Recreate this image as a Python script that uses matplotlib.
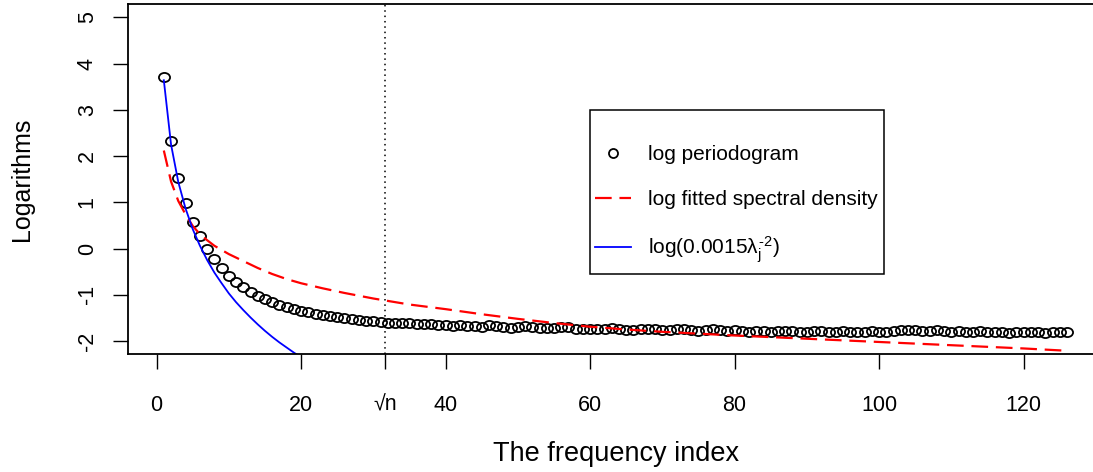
import numpy as np
import matplotlib
matplotlib.use("Agg")
import matplotlib.pyplot as plt
from matplotlib.patches import Rectangle
from matplotlib.lines import Line2D
from matplotlib.path import Path
from matplotlib.transforms import Affine2D

plt.rcParams["font.family"] = ["Liberation Sans", "DejaVu Sans"]
plt.rcParams["mathtext.fontset"] = "custom"
plt.rcParams["mathtext.rm"] = "Liberation Sans"
plt.rcParams["mathtext.it"] = "Liberation Sans"
plt.rcParams["axes.unicode_minus"] = False

# log periodogram at frequency index j = 1..126
log_pgram = [
    3.70, 2.32, 1.53, 0.99, 0.58, 0.27, -0.01, -0.23, -0.43, -0.60,
    -0.72, -0.83, -0.94, -1.03, -1.10, -1.16, -1.21, -1.26, -1.30, -1.34,
    -1.38, -1.41, -1.44, -1.46, -1.49, -1.51, -1.53, -1.55, -1.56, -1.57,
    -1.58, -1.60, -1.61, -1.62, -1.62, -1.63, -1.64, -1.64, -1.65, -1.66,
    -1.67, -1.66, -1.67, -1.68, -1.69, -1.66, -1.68, -1.70, -1.71, -1.70,
    -1.67, -1.70, -1.71, -1.72, -1.71, -1.69, -1.70, -1.73, -1.74, -1.74,
    -1.75, -1.74, -1.72, -1.74, -1.76, -1.77, -1.75, -1.74, -1.75, -1.76,
    -1.77, -1.75, -1.74, -1.76, -1.78, -1.77, -1.75, -1.77, -1.78, -1.77,
    -1.79, -1.80, -1.78, -1.79, -1.80, -1.79, -1.78, -1.79, -1.80, -1.80,
    -1.79, -1.78, -1.80, -1.81, -1.79, -1.80, -1.81, -1.80, -1.79, -1.81,
    -1.80, -1.78, -1.76, -1.77, -1.76, -1.78, -1.79, -1.77, -1.79, -1.80,
    -1.79, -1.81, -1.80, -1.79, -1.81, -1.81, -1.80, -1.82, -1.81, -1.80,
    -1.81, -1.80, -1.82, -1.81, -1.80, -1.81,
]
freq_idx = np.arange(1, len(log_pgram) + 1)

# log fitted spectral density (read at selected indices)
fit_idx = [1, 2, 3, 4, 5, 6, 7, 8, 10, 12, 14, 16, 18, 20, 23, 26, 30, 35,
           40, 45, 50, 55, 60, 65, 70, 80, 90, 100, 110, 120, 126]
fit_val = [2.12, 1.45, 1.03, 0.74, 0.49, 0.31, 0.18, 0.06, -0.12, -0.27,
           -0.42, -0.55, -0.66, -0.75, -0.86, -0.96, -1.08, -1.21,
           -1.31, -1.42, -1.52, -1.61, -1.69, -1.75, -1.80, -1.88, -1.95,
           -2.02, -2.09, -2.16, -2.21]

# log(0.0015 * lambda_j^-2)
pow_idx = list(range(1, 21))
pow_val = [3.64, 2.25, 1.44, 0.87, 0.42, 0.06, -0.25, -0.52, -0.75, -0.97,
           -1.16, -1.33, -1.49, -1.64, -1.78, -1.91, -2.03, -2.14, -2.25, -2.35]

sqrt_n = np.sqrt(1000)
xticks = [0, 20, sqrt_n, 40, 60, 80, 100, 120]
xlabels = ["0", "20", "\u221an", "40", "60", "80", "100", "120"]
yticks = [-2, -1, 0, 1, 2, 3, 4, 5]

# the reference's open circles are slightly wider than tall
oval = Path.unit_circle().transformed(Affine2D().scale(1.0, 0.82))

W, H = 1093, 472
fig = plt.figure(figsize=(W / 100, H / 100), dpi=100)
ax = fig.add_axes([127.7 / W, (H - 354) / H, 975.4 / W, 349.6 / H])

ax.plot(freq_idx, log_pgram, ls="none", marker=oval, mfc="none", mec="black",
        ms=8.0, mew=1.3)
ax.plot(fit_idx, fit_val, color="red", lw=1.6, dashes=(7.5, 3.5))
ax.plot(pow_idx, pow_val, color="blue", lw=1.3)
ax.axvline(sqrt_n, color="black", lw=1.1, ls=(0, (1, 2.5)))

ax.set_xlim(-4, 131)
ax.set_ylim(-2.28, 5.28)
ax.set_xticks(xticks)
ax.set_xticklabels(xlabels)
ax.set_yticks(yticks)
ax.set_yticklabels([str(v) for v in yticks], rotation=90, va="center")
ax.tick_params(axis="both", length=10.5, width=1.0, labelsize=15.5)
ax.tick_params(axis="x", pad=19)
ax.tick_params(axis="y", pad=11)
for s in ax.spines.values():
    s.set_linewidth(1.3)

fig.text(22 / W, 1 - 179 / H, "Logarithms", rotation=90, ha="center",
         va="center", fontsize=18)
fig.text(616 / W, 1 - 454 / H, "The frequency index", ha="center",
         va="center", fontsize=19.5)

# legend
handles = [
    Line2D([], [], ls="none", marker="o", mfc="none", mec="black", ms=6.5, mew=1.3),
    Line2D([], [], color="red", lw=1.6, dashes=(7.5, 3.5)),
    Line2D([], [], color="blue", lw=1.3),
]
labels = ["log periodogram", "log fitted spectral density",
          "log(0.0015$\\lambda_j^{\\text{-2}}$)"]
ax.legend(handles, labels, loc="upper left",
          bbox_to_anchor=(595 / W, 1 - 145 / H), bbox_transform=fig.transFigure,
          frameon=False, borderpad=0, borderaxespad=0, fontsize=15,
          handlelength=1.75, handletextpad=0.8, labelspacing=1.24)
fig.patches.append(Rectangle((590 / W, 1 - 274 / H), 294 / W, 164 / H,
                             transform=fig.transFigure, fill=False,
                             edgecolor="black", lw=1.1))

fig.savefig("out.png", dpi=100)
